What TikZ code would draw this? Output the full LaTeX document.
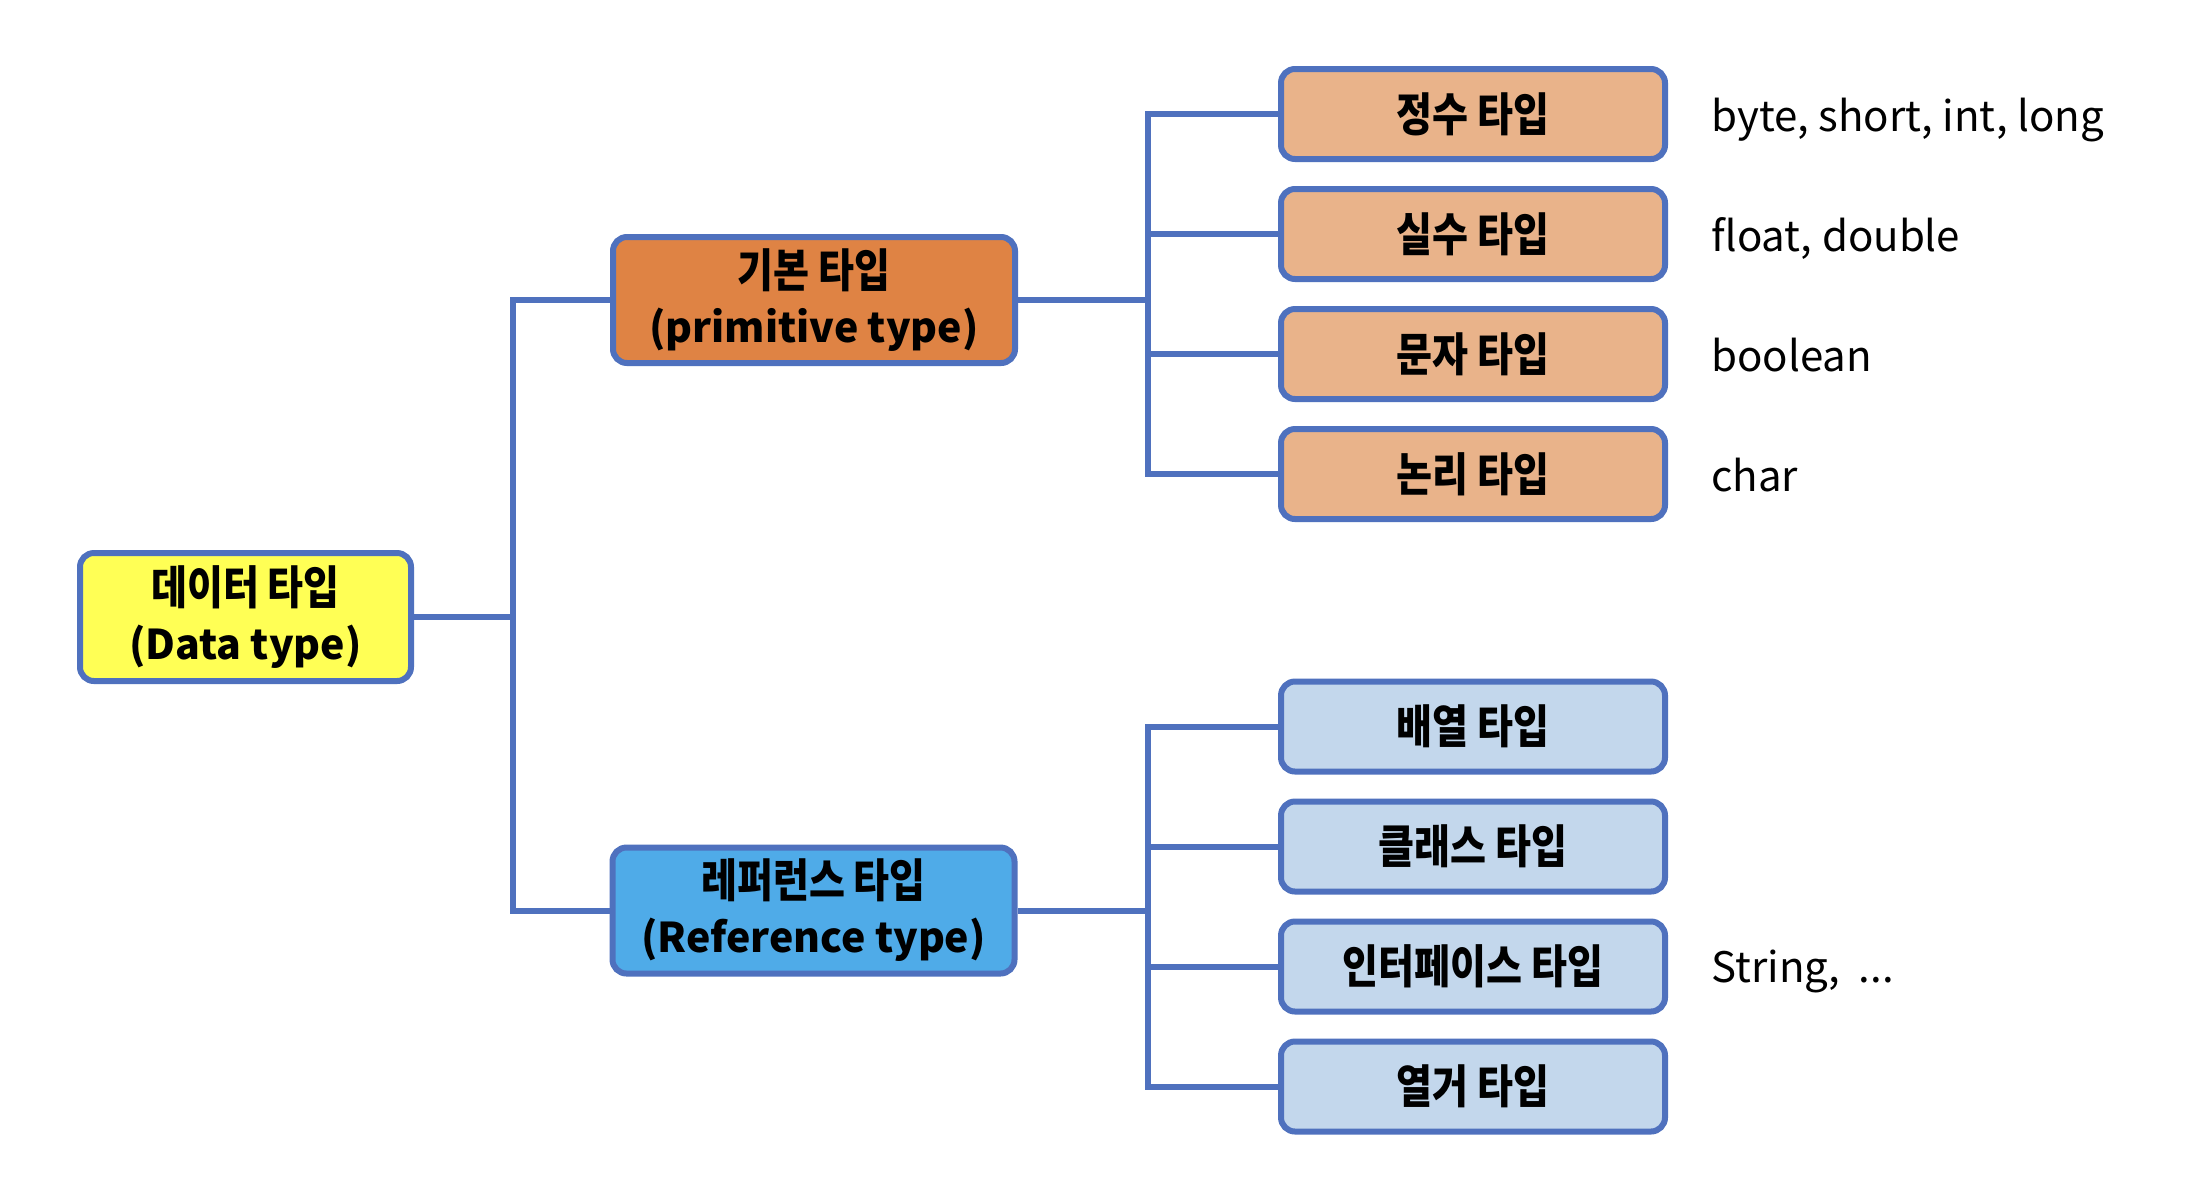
\documentclass[tikz,border=0pt]{standalone}
\usepackage{fontspec}
\setmainfont{Noto Sans CJK KR}
\newfontfamily\krn{Noto Sans CJK KR}[FakeStretch=0.85]
\newfontfamily\lab{Noto Sans CJK KR}
\usetikzlibrary{backgrounds}
\definecolor{bordc}{HTML}{4F71BE}
\definecolor{yel}{HTML}{FFFF55}
\definecolor{org}{HTML}{DF8344}
\definecolor{lorg}{HTML}{E9B38A}
\definecolor{blu}{HTML}{4FABE8}
\definecolor{lblu}{HTML}{C3D7EC}
\newcommand{\latline}[1]{{\fontsize{20.5}{27.5}\selectfont #1}}
\tikzset{
  box/.style={draw=bordc, line width=3pt, rounded corners=7pt, inner sep=0pt,
    align=center, text=black, font=\fontsize{23}{27.5}\selectfont\bfseries},
  bigbox/.style={box, minimum width=201pt, minimum height=63pt},
  smallbox/.style={box, minimum width=192pt, minimum height=45pt},
  conn/.style={draw=bordc, line width=3pt},
  lbl/.style={anchor=base west, inner sep=0pt, text=black, font=\lab\fontsize{21}{25}\selectfont}
}
\begin{document}
\begin{tikzpicture}[x=0.5pt,y=-0.5pt]
\useasboundingbox (0,0) rectangle (2206,1196);
\node[box, fill=yel, minimum width=165.5pt, minimum height=64pt] (data) at (245.5,617) {{\krn 데이터 타입}\\\latline{(Data type)}};
\node[bigbox, fill=org] (prim) at (814,300) {{\krn 기본 타입}\\\latline{(primitive type)}};
\node[bigbox, fill=blu] (ref) at (813.5,910.5) {{\krn 레퍼런스 타입}\\\latline{(Reference type)}};
\node[smallbox, fill=lorg] (r1) at (1473,114) {\krn 정수 타입};
\node[smallbox, fill=lorg] (r2) at (1473,234) {\krn 실수 타입};
\node[smallbox, fill=lorg] (r3) at (1473,354) {\krn 문자 타입};
\node[smallbox, fill=lorg] (r4) at (1473,474) {\krn 논리 타입};
\node[smallbox, fill=lblu] (s1) at (1473,726.5) {\krn 배열 타입};
\node[smallbox, fill=lblu] (s2) at (1473,846.5) {\krn 클래스 타입};
\node[smallbox, fill=lblu] (s3) at (1473,966.5) {\krn 인터페이스 타입};
\node[smallbox, fill=lblu] (s4) at (1473,1086.5) {\krn 열거 타입};
\node[lbl] (l1) at (1711,131) {byte,\ short,\ int,\ long};
\node[lbl] (l2) at (1711,251) {float,\ double};
\node[lbl] (l3) at (1711,371) {boolean};
\node[lbl] (l4) at (1711,491) {char};
\node[lbl] (l5) at (1711,982.5) {String,\ \ ...};
\coordinate (j1) at (513,617);
\coordinate (j2) at (1148,300);
\coordinate (j3) at (1148,910.5);
\begin{scope}[on background layer]
\fill[white] (0,0) rectangle (2206,1196);
\draw[conn] (prim.west) -| (j1) |- (ref.west);
\draw[conn] (data.east) -- (j1);
\draw[conn] (r1.west) -| (j2) |- (r4.west);
\draw[conn] (prim.east) -- (j2);
\draw[conn] (j2) |- (r2.west);
\draw[conn] (j2) |- (r3.west);
\draw[conn] (s1.west) -| (j3) |- (s4.west);
\draw[conn] (ref.east) -- (j3);
\draw[conn] (j3) |- (s2.west);
\draw[conn] (j3) |- (s3.west);
\end{scope}
\end{tikzpicture}
\end{document}
